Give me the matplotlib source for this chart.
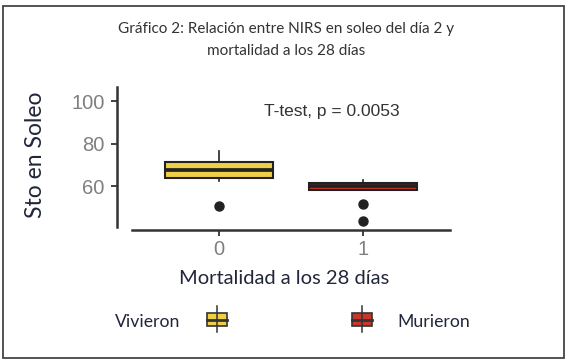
import numpy as np
import matplotlib
matplotlib.use("Agg")
import matplotlib.pyplot as plt
from matplotlib.patches import Rectangle

# box statistics (Sto en Soleo, day 2)
groups = ["0", "1"]
q1 = [64.0, 58.4]
med = [67.8, 60.0]
q3 = [71.5, 61.6]
whislo = [62.6, 58.4]
whishi = [76.7, 63.1]
fliers = [[50.8], [51.8, 43.8]]
fills = ["#EFCF45", "#C9352A"]
legend_labels = ["Vivieron", "Murieron"]

W, H = 572, 361
fig = plt.figure(figsize=(W / 100, H / 100), dpi=100)

# background layer in pixel coordinates (frame + legend)
bg = fig.add_axes([0, 0, 1, 1])
bg.set_xlim(0, W)
bg.set_ylim(H, 0)
bg.axis("off")
bg.add_patch(Rectangle((2.5, 6), 561, 352, fill=False, ec="#444444", lw=1.3))

px = 0.72  # points per pixel
ax = fig.add_axes([132 / W, 1 - 230 / H, 318 / W, 143 / H])
stats = [dict(q1=a, med=b, q3=c, whislo=d, whishi=e, fliers=f, label=g)
         for a, b, c, d, e, f, g in zip(q1, med, q3, whislo, whishi, fliers, groups)]
bp = ax.bxp(stats, positions=[0, 1], widths=0.75, patch_artist=True,
            showcaps=False,
            boxprops=dict(edgecolor="#222222", linewidth=1.5),
            medianprops=dict(color="#222222", linewidth=2.7, solid_capstyle="butt"),
            whiskerprops=dict(color="#222222", linewidth=1.2),
            flierprops=dict(marker="o", markerfacecolor="#222222",
                            markeredgecolor="#222222", markersize=6.5))
for patch, c in zip(bp["boxes"], fills):
    patch.set_facecolor(c)

ax.set_xlim(-0.6, 1.6)
ax.set_ylim(39.5, 106.8)
ax.set_yticks([60, 80, 100])
ax.set_xticks([0, 1])
ax.set_xticklabels(groups)
for s in ("top", "right"):
    ax.spines[s].set_visible(False)
ax.spines["left"].set_position(("outward", 15 * px))
ax.spines["left"].set_bounds(40.9, 106.8)
for s in ("left", "bottom"):
    ax.spines[s].set_linewidth(1.8)
    ax.spines[s].set_color("#333333")
ax.tick_params(axis="both", colors="#333333", labelcolor="#7f7f7f",
               labelsize=14.5, length=4, width=1.3)
ax.tick_params(axis="y", pad=5)
ax.tick_params(axis="x", pad=3)
for lab in ax.get_xticklabels() + ax.get_yticklabels():
    lab.set_fontfamily("Liberation Sans")
ax.patch.set_alpha(0)

ax.text(0.31, 95.1, "T-test, p = 0.0053", ha="left", va="center",
        fontsize=12.5, family="Liberation Sans", color="#333333")

cal = "Lato"
txt = "#22263a"
bg.text(286, 29, "Gráfico 2: Relación entre NIRS en soleo del día 2 y",
        ha="center", va="center", fontsize=11, family=cal, color="#333333")
bg.text(286, 51, "mortalidad a los 28 días", ha="center", va="center",
        fontsize=11, family=cal, color="#333333")
bg.text(35, 155, "Sto en Soleo", rotation=90, ha="center", va="center",
        fontsize=16.5, family=cal, color=txt)
bg.text(284, 278, "Mortalidad a los 28 días", ha="center", va="center",
        fontsize=14.5, family=cal, color=txt)

# legend: label, key glyph
for cx, c, lab, tx, ha in ((217, fills[0], legend_labels[0], 180, "right"),
                           (362, fills[1], legend_labels[1], 397, "left")):
    bg.plot([cx, cx], [306, 332], color="#333333", lw=1.1)
    bg.add_patch(Rectangle((cx - 10, 313), 20, 13, fc=c, ec="#333333", lw=1.2))
    bg.plot([cx - 10, cx + 10], [319.5, 319.5], color="#333333", lw=2.0)
    bg.text(tx, 322, lab, ha=ha, va="center", fontsize=12.7, family=cal, color=txt)

fig.savefig("out.png", dpi=100)
